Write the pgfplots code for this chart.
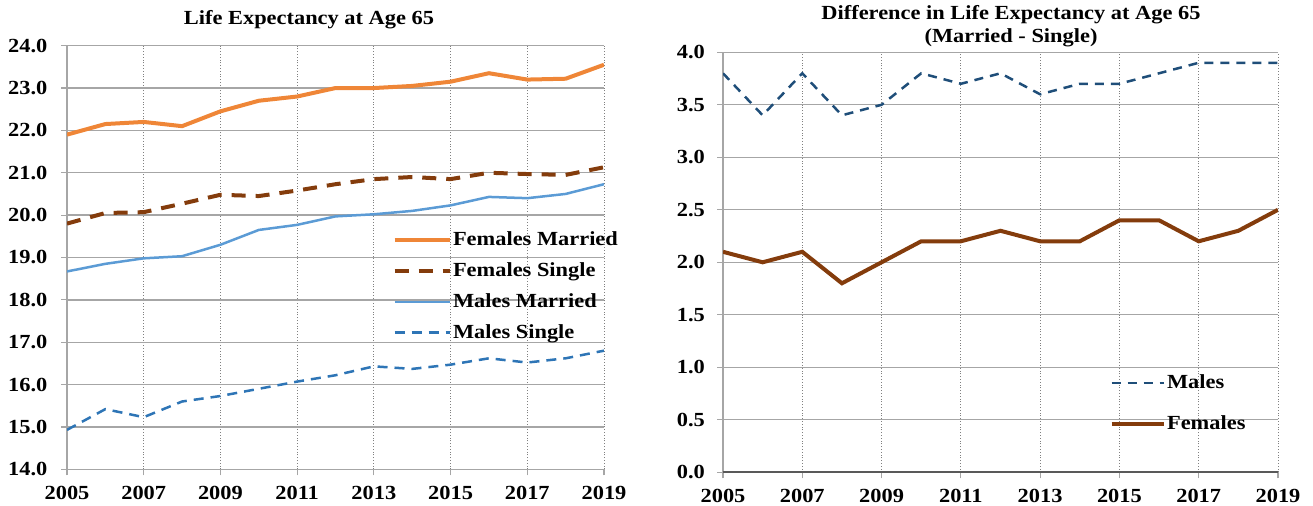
\documentclass[border=0pt]{standalone}
\usepackage{fontspec}
\setmainfont[FakeStretch=1.12]{Liberation Serif}
\usepackage{pgfplots}
\pgfplotsset{compat=1.18}
\definecolor{fmar}{HTML}{EF8637}
\definecolor{fsin}{HTML}{843C0C}
\definecolor{mmar}{HTML}{5B9BD5}
\definecolor{msin}{HTML}{2E75B6}
\definecolor{mdif}{HTML}{1F4E79}
\definecolor{gridc}{HTML}{A6A6A6}
\newcommand{\cf}{\bfseries\fontsize{10}{11.5}\selectfont}
\pgfplotsset{
  common/.style={
    anchor=south west, scale only axis,
    axis x line=bottom, axis y line=left,
    axis line style={-, draw=gridc, line width=0.7pt},
    xmin=2005, xmax=2019,
    xtick={2005,2007,...,2019},
    tick align=outside, tick style={draw=gridc, line width=0.6pt}, major tick length=3pt,
    xmajorgrids, ymajorgrids,
    x grid style={densely dotted, draw=gray, line width=0.5pt},
    y grid style={solid, draw=gridc, line width=0.7pt},
    tick label style={font=\cf},
    /pgf/number format/assume math mode=true,
    x tick label style={/tikz/yshift=-2pt, /pgf/number format/set thousands separator={}},
    y tick label style={/pgf/number format/fixed, /pgf/number format/fixed zerofill, /pgf/number format/precision=1},
    legend style={draw=none, fill=none, font=\cf, anchor=north west,
      legend cell align=left,
      nodes={inner xsep=0.7pt}},
    legend cell align=left,
  }
}
\begin{document}
\begin{tikzpicture}
\path[use as bounding box] (0pt,0pt) rectangle (656.5pt,253pt);
\node[font=\cf] at (154.5pt,243pt) {Life Expectancy at Age 65};
\node[font=\cf, align=center] at (505.5pt,239.75pt) {Difference in Life Expectancy at Age 65\\(Married - Single)};
\begin{axis}[common,
  at={(33.5pt,18.35pt)}, width=268.5pt, height=211.8pt,
  ymin=14, ymax=24, ytick={14,15,...,24},
  y tick label style={/tikz/xshift=-3.3pt},
  legend style={at={(0.5945,0.581)}, row sep=3pt},
  legend image code/.code={\draw[#1] (0pt,0pt) -- (27.5pt,0pt);},
]
\addplot[fmar, line width=2pt] coordinates {(2005,21.9) (2006,22.15) (2007,22.2) (2008,22.1) (2009,22.45) (2010,22.7) (2011,22.8) (2012,23.0) (2013,23.0) (2014,23.05) (2015,23.15) (2016,23.35) (2017,23.2) (2018,23.22) (2019,23.55)};
\addlegendentry{Females Married}
\addplot[fsin, line width=2pt, dash pattern=on 7pt off 5pt] coordinates {(2005,19.8) (2006,20.05) (2007,20.07) (2008,20.27) (2009,20.48) (2010,20.45) (2011,20.58) (2012,20.73) (2013,20.85) (2014,20.9) (2015,20.85) (2016,21.0) (2017,20.97) (2018,20.95) (2019,21.13)};
\addlegendentry{Females Single}
\addplot[mmar, line width=1.25pt] coordinates {(2005,18.67) (2006,18.85) (2007,18.98) (2008,19.03) (2009,19.3) (2010,19.65) (2011,19.77) (2012,19.97) (2013,20.02) (2014,20.1) (2015,20.23) (2016,20.43) (2017,20.4) (2018,20.5) (2019,20.73)};
\addlegendentry{Males Married}
\addplot[msin, line width=1.25pt, dash pattern=on 5pt off 3.5pt] coordinates {(2005,14.93) (2006,15.42) (2007,15.23) (2008,15.6) (2009,15.73) (2010,15.9) (2011,16.07) (2012,16.22) (2013,16.43) (2014,16.37) (2015,16.47) (2016,16.62) (2017,16.52) (2018,16.62) (2019,16.8)};
\addlegendentry{Males Single}
\end{axis}
\begin{axis}[common,
  at={(361.5pt,16.85pt)}, width=277.5pt, height=210pt,
  ymin=0, ymax=4, ytick={0,0.5,...,4},
  y tick label style={/tikz/xshift=-2.5pt},
  legend style={at={(0.6852,0.2526)}, row sep=8pt},
  legend image code/.code={\draw[#1] (0pt,0pt) -- (26pt,0pt);},
]
\addplot[mdif, line width=1.25pt, dash pattern=on 4.5pt off 3.5pt] coordinates {(2005,3.8) (2006,3.4) (2007,3.8) (2008,3.4) (2009,3.5) (2010,3.8) (2011,3.7) (2012,3.8) (2013,3.6) (2014,3.7) (2015,3.7) (2016,3.8) (2017,3.9) (2018,3.9) (2019,3.9)};
\addlegendentry{Males}
\addplot[fsin, line width=2pt] coordinates {(2005,2.1) (2006,2.0) (2007,2.1) (2008,1.8) (2009,2.0) (2010,2.2) (2011,2.2) (2012,2.3) (2013,2.2) (2014,2.2) (2015,2.4) (2016,2.4) (2017,2.2) (2018,2.3) (2019,2.5)};
\addlegendentry{Females}
\draw[draw=black!65, line width=1pt] (axis cs:2005,0) -- (axis cs:2019,0);
\end{axis}
\end{tikzpicture}
\end{document}
